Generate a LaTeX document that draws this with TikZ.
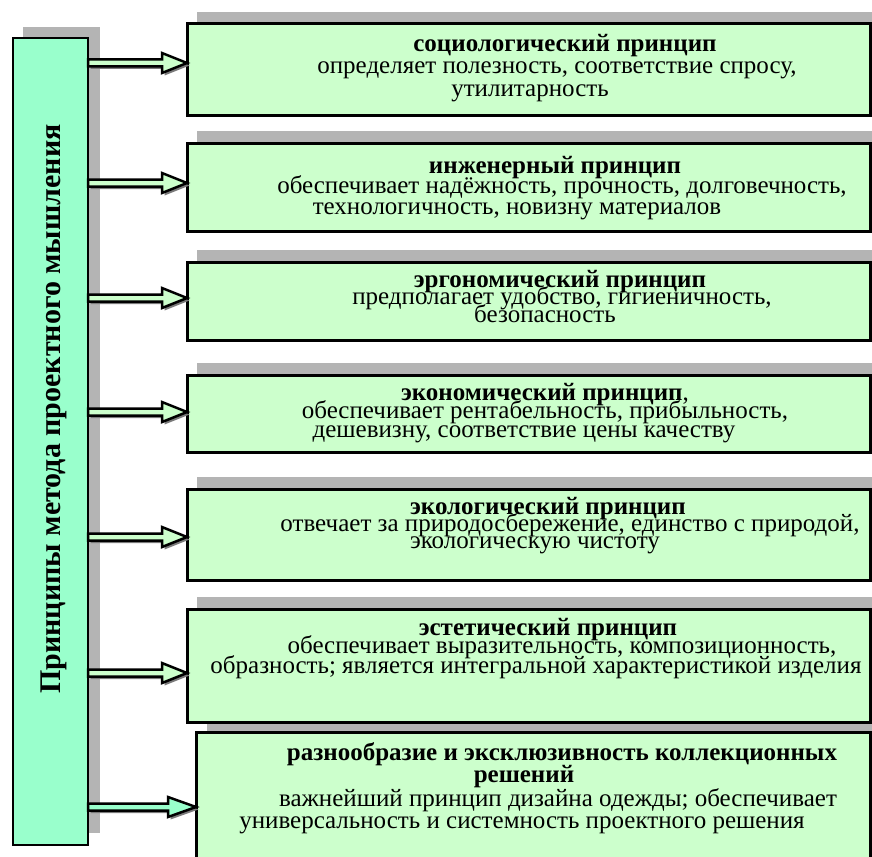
\documentclass[tikz,border=0pt]{standalone}
\usepackage{fontspec}
\setmainfont{Liberation Serif}
\newfontfamily\tnr{Liberation Serif}
\definecolor{boxg}{HTML}{CCFFCC}
\definecolor{aquag}{HTML}{99FFCC}
\definecolor{shadg}{HTML}{B4B4B4}
\definecolor{arrsh}{HTML}{7A7A7A}
\tikzset{
  pbox/.style={draw=black, line width=3pt, fill=boxg, inner sep=0pt, outer sep=0pt, minimum width=683pt},
  tl/.style={inner sep=0pt, anchor=base, font=\tnr\fontsize{25}{25}\selectfont},
  tb/.style={inner sep=0pt, anchor=base, font=\tnr\bfseries\fontsize{25}{25}\selectfont},
}
% #1 start, #2 tip, #3 fill colour, #4 head length
\newcommand\blockarrow[4]{%
  \fill[arrsh] ([shift={(2.5,-1)}]#1) -- ([shift={(-#4+2.5,-1)}]#2) -- ([shift={(-#4+2.5,-7.5)}]#2)
    -- ([shift={(2.5,2.5)}]#2) -- ([shift={(-#4+2.5,12.5)}]#2) -- ([shift={(-#4+2.5,6)}]#2)
    -- ([shift={(2.5,6)}]#1) -- cycle;
  \draw[line width=2.5pt, fill=#3, line join=miter] ([shift={(0,-3.5)}]#1) -- ([shift={(-#4,-3.5)}]#2)
    -- ([shift={(-#4,-10)}]#2) -- (#2) -- ([shift={(-#4,10)}]#2) -- ([shift={(-#4,3.5)}]#2)
    -- ([shift={(0,3.5)}]#1) -- cycle;
}
\begin{document}
\begin{tikzpicture}[x=1pt,y=-1pt]
\useasboundingbox (0,0) rectangle (872,856);
\clip (0,0) rectangle (872,856);
% shadows
\fill[shadg] (23,27) rectangle (100,833);
\fill[shadg] (197,12) rectangle (880,104);
\fill[shadg] (197,131) rectangle (880,219);
\fill[shadg] (197,250) rectangle (880,328);
\fill[shadg] (197,363) rectangle (880,440);
\fill[shadg] (197,477) rectangle (880,568);
\fill[shadg] (197,597) rectangle (880,710);
\fill[shadg] (207,720) rectangle (880,868);
% main box
\node[draw=black, line width=2.5pt, fill=aquag, inner sep=0pt, outer sep=0pt,
      minimum width=75pt, minimum height=807pt] (main) at (50.5,441.5) {};
\node[rotate=90, anchor=base, inner sep=0pt, font=\tnr\bfseries\fontsize{30}{30}\selectfont]
      (title) at (60,409) {Принципы метода проектного мышления};
% boxes
\node[pbox, minimum height=92pt] (b1) at (528.5,70) {};
\node[pbox, minimum height=88pt] (b2) at (528.5,187) {};
\node[pbox, minimum height=78pt] (b3) at (528.5,301) {};
\node[pbox, minimum height=77pt] (b4) at (528.5,413.5) {};
\node[pbox, minimum height=91pt] (b5) at (528.5,534.5) {};
\node[pbox, minimum height=113pt] (b6) at (528.5,665.5) {};
\node[pbox, minimum width=674pt, minimum height=148pt] (b7) at (533,806) {};
% texts
\node[tb] (t1a) at (565,52) {социологический принцип};
\node[tl] (t1b) at (557,74) {определяет полезность, соответствие спросу,};
\node[tl] (t1c) at (530,97) {утилитарность};
\node[tb] (t2a) at (555,173) {инженерный принцип};
\node[tl] (t2b) at (562,193) {обеспечивает надёжность, прочность, долговечность,};
\node[tl] (t2c) at (517,214) {технологичность, новизну материалов};
\node[tb] (t3a) at (560,287) {эргономический принцип};
\node[tl] (t3b) at (562,304) {предполагает удобство, гигиеничность,};
\node[tl] (t3c) at (545,322) {безопасность};
\node[tl] (t4a) at (545,400) {\textbf{экономический принцип},};
\node[tl] (t4b) at (545,418) {обеспечивает рентабельность, прибыльность,};
\node[tl] (t4c) at (524,437) {дешевизну, соответствие цены качеству};
\node[tb] (t5a) at (548,514) {экологический принцип};
\node[tl] (t5b) at (570,531) {отвечает за природосбережение, единство с природой,};
\node[tl] (t5c) at (535,548) {экологическую чистоту};
\node[tb] (t6a) at (548,635) {эстетический принцип};
\node[tl] (t6b) at (562,653) {обеспечивает выразительность, композиционность,};
\node[tl] (t6c) at (536,673) {образность; является интегральной характеристикой изделия};
\node[tb] (t7a) at (562,760) {разнообразие и эксклюзивность коллекционных};
\node[tb] (t7b) at (524,782) {решений};
\node[tl] (t7c) at (558,806) {важнейший принцип дизайна одежды; обеспечивает};
\node[tl] (t7d) at (522,828) {универсальность и системность проектного решения};
% connectors
\coordinate (s1) at (main.east |- 0,63);  \coordinate (e1) at (b1.west |- 0,63);
\coordinate (s2) at (main.east |- 0,183); \coordinate (e2) at (b2.west |- 0,183);
\coordinate (s3) at (main.east |- 0,298); \coordinate (e3) at (b3.west |- 0,298);
\coordinate (s4) at (main.east |- 0,412); \coordinate (e4) at (b4.west |- 0,412);
\coordinate (s5) at (main.east |- 0,537); \coordinate (e5) at (b5.west |- 0,537);
\coordinate (s6) at (main.east |- 0,673); \coordinate (e6) at (b6.west |- 0,673);
\coordinate (s7) at (main.east |- 0,807); \coordinate (e7) at (b7.west |- 0,807);
\blockarrow{s1}{e1}{boxg}{25}
\blockarrow{s2}{e2}{boxg}{25}
\blockarrow{s3}{e3}{boxg}{25}
\blockarrow{s4}{e4}{boxg}{25}
\blockarrow{s5}{e5}{boxg}{25}
\blockarrow{s6}{e6}{boxg}{25}
\blockarrow{s7}{e7}{aquag}{28}
\end{tikzpicture}
\end{document}
